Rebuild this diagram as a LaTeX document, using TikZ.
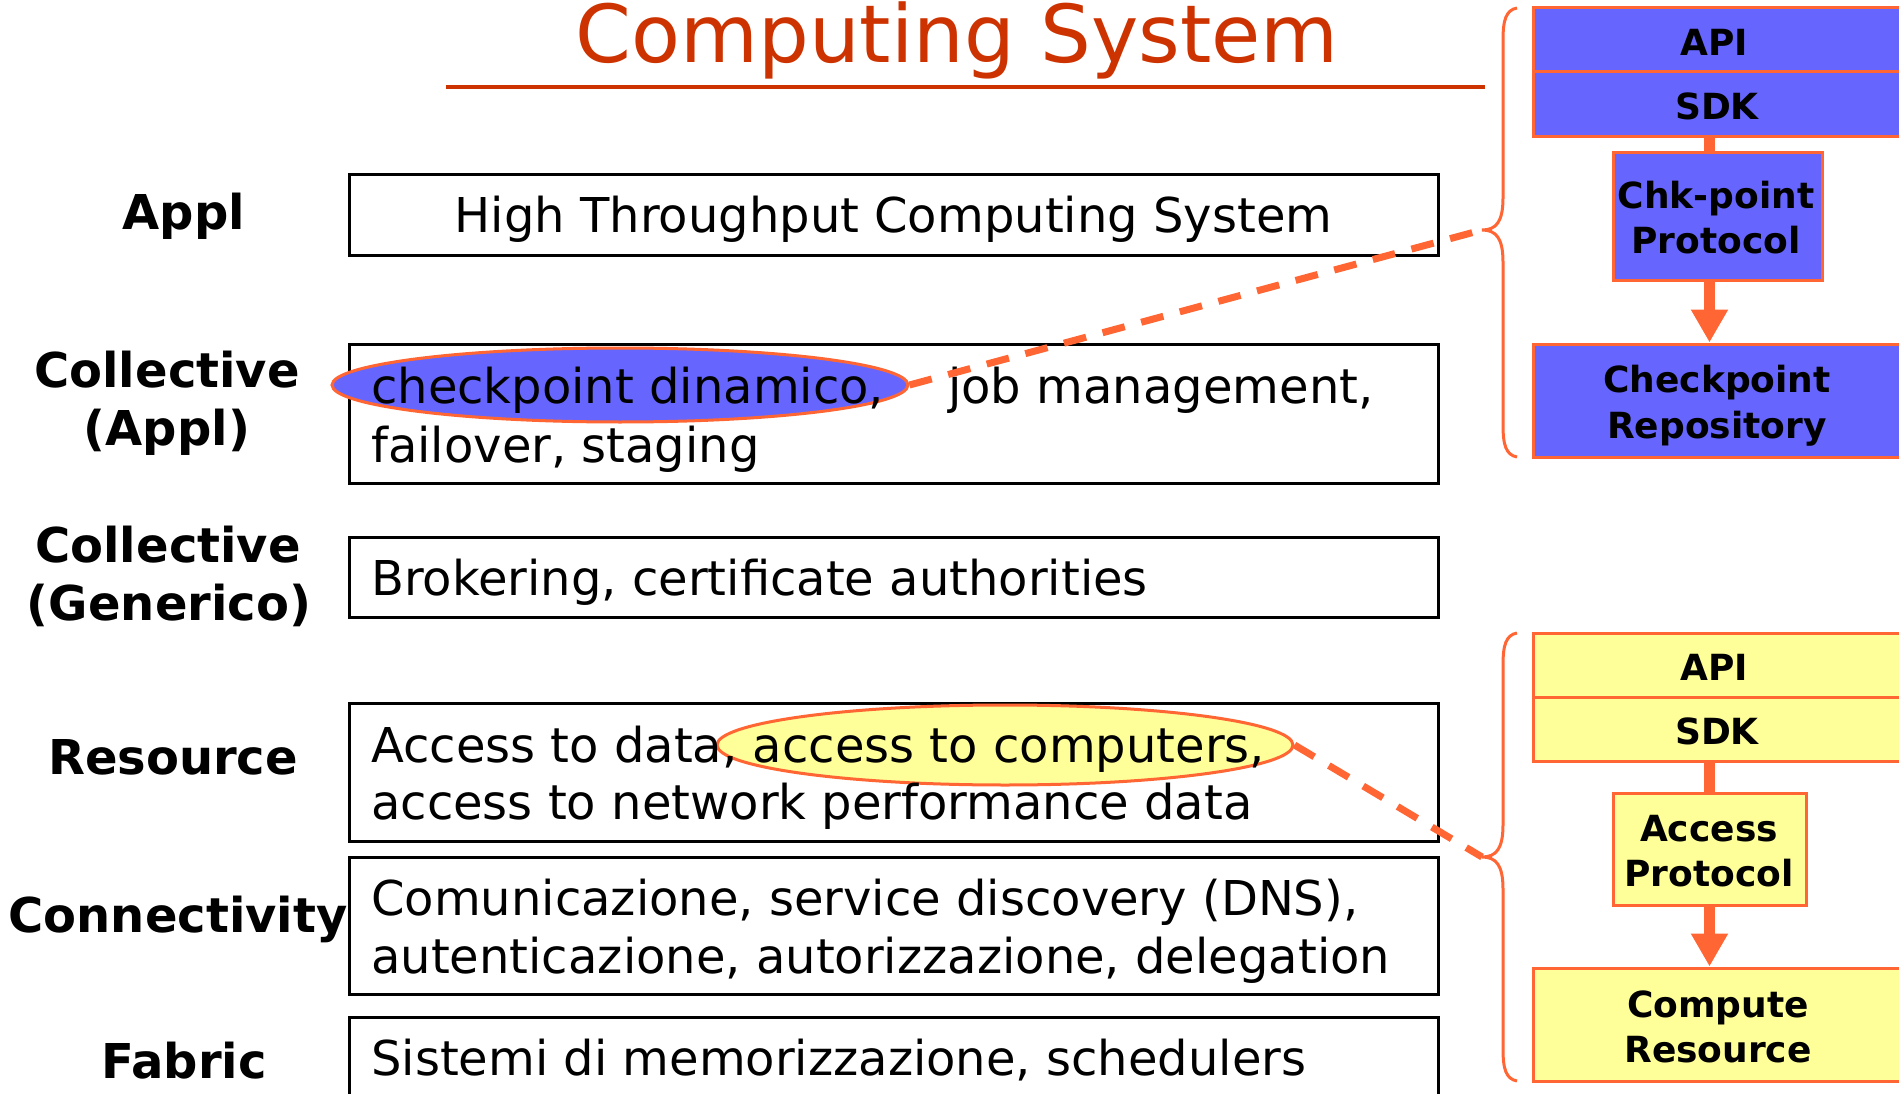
\documentclass[tikz,border=0pt]{standalone}
\usepackage{fontspec}
\setmainfont{DejaVu Sans}
\usetikzlibrary{shapes.geometric,arrows.meta}
\definecolor{orng}{HTML}{FF6633}
\definecolor{blu}{HTML}{6666FF}
\definecolor{ylw}{HTML}{FFFF99}
\definecolor{ttl}{HTML}{CC3300}
\begin{document}
\begin{tikzpicture}[x=1pt,y=-1pt,
  layer/.style={draw=black, line width=3pt, fill=white, inner sep=0pt, rectangle},
  bodytxt/.style={anchor=base west, inner sep=0pt, font=\fontsize{48}{58}\selectfont},
  lbl/.style={anchor=base, inner sep=0pt, font=\bfseries\fontsize{48}{58}\selectfont},
  rbox/.style={draw=orng, line width=3pt, inner sep=0pt, rectangle},
  rtxt/.style={anchor=base, inner sep=0pt, font=\bfseries\fontsize{36}{45}\selectfont},
  hl/.style={ellipse, draw=orng, line width=3pt, inner sep=0pt},
  bar/.style={draw=orng, line width=11pt},
  leader/.style={draw=orng, line width=7pt, dash pattern=on 23pt off 17pt},
  bracepath/.style={draw=orng, line width=3pt}]
\useasboundingbox (0,0) rectangle (1899,1094);
\clip (0,0) rectangle (1899,1094);

% title
\node[anchor=base, inner sep=0pt, text=ttl, font=\fontsize{80}{90}\selectfont] (title) at (957,63) {Computing System};
\coordinate (ulA) at (446,87);
\coordinate (ulB) at (1485,87);
\draw[ttl, line width=4pt] (ulA) -- (ulB);

% layer boxes
\node[layer, minimum width=1089pt, minimum height=81pt] (L1) at (893.5,215.5) {};
\node[layer, minimum width=1089pt, minimum height=139pt] (L2) at (893.5,413.5) {};
\node[layer, minimum width=1089pt, minimum height=80pt] (L3) at (893.5,577) {};
\node[layer, minimum width=1089pt, minimum height=138pt] (L4) at (893.5,772) {};
\node[layer, minimum width=1089pt, minimum height=137pt] (L5) at (893.5,925.5) {};
\node[layer, minimum width=1089pt, minimum height=113pt] (L6) at (893.5,1073.5) {};

% highlight ellipses
\node[hl, fill=blu, minimum width=576pt, minimum height=74pt] (e1) at (620,385) {};
\node[hl, fill=ylw, minimum width=576pt, minimum height=80pt] (e2) at (1005,745) {};

% layer labels
\node[lbl] (la1) at (184,230) {Appl};
\node[lbl] (la2) at (167,387) {Collective};
\node[lbl] (la2b) at (167,445) {(Appl)};
\node[lbl] (la3) at (168,562) {Collective};
\node[lbl] (la3b) at (169,620) {(Generico)};
\node[lbl] (la4) at (173,774) {Resource};
\node[lbl] (la5) at (178,932) {Connectivity};
\node[lbl] (la6) at (184,1078) {Fabric};

% layer texts
\node[anchor=base, inner sep=0pt, font=\fontsize{48}{58}\selectfont] (t1) at (893.5,233) {High Throughput Computing System};
\node[bodytxt] (t2a) at (371,403) {checkpoint dinamico,\hspace{64pt}job management,};
\node[bodytxt] (t2b) at (371,462) {failover, staging};
\node[bodytxt] (t3) at (371,595) {Brokering, certificate authorities};
\node[bodytxt] (t4a) at (371,762) {Access to data, access to computers,};
\node[bodytxt] (t4b) at (371,819) {access to network performance data};
\node[bodytxt] (t5a) at (371,915) {Comunicazione, service discovery (DNS),};
\node[bodytxt] (t5b) at (371,973) {autenticazione, autorizzazione, delegation};
\node[bodytxt] (t6) at (371,1075) {Sistemi di memorizzazione, schedulers};

% right top group
\node[rbox, fill=blu, minimum width=367pt, minimum height=64pt] (api1) at (1716.5,40) {};
\node[rbox, fill=blu, minimum width=367pt, minimum height=65pt] (sdk1) at (1716.5,104.5) {};
\node[rbox, fill=blu, minimum width=209pt, minimum height=128pt] (chk) at (1717.5,217) {};
\node[rbox, fill=blu, minimum width=367pt, minimum height=113pt] (repo) at (1716.5,400.5) {};
\node[rtxt] (api1t) at (1714,56) {API};
\node[rtxt] (sdk1t) at (1717,120) {SDK};
\node[rtxt] (chkt1) at (1716,209) {Chk-point};
\node[rtxt] (chkt2) at (1716,254) {Protocol};
\node[rtxt] (repot1) at (1717,392) {Checkpoint};
\node[rtxt] (repot2) at (1717,438) {Repository};
\coordinate (ax1) at (1709.5,0);
\draw[bar] (sdk1.south -| ax1) -- (chk.north -| ax1);
\draw[bar, -{Triangle[width=35pt,length=33pt]}] (chk.south -| ax1) -- (repo.north -| ax1);

% right bottom group
\node[rbox, fill=ylw, minimum width=367pt, minimum height=64pt] (api2) at (1716.5,665) {};
\node[rbox, fill=ylw, minimum width=367pt, minimum height=64pt] (sdk2) at (1716.5,729) {};
\node[rbox, fill=ylw, minimum width=193pt, minimum height=112pt] (acc) at (1709.5,849) {};
\node[rbox, fill=ylw, minimum width=367pt, minimum height=113pt] (comp) at (1716.5,1024.5) {};
\node[rtxt] (api2t) at (1714,680) {API};
\node[rtxt] (sdk2t) at (1717,744) {SDK};
\node[rtxt] (acct1) at (1709,841) {Access};
\node[rtxt] (acct2) at (1709,886) {Protocol};
\node[rtxt] (compt1) at (1718,1017) {Compute};
\node[rtxt] (compt2) at (1718,1062) {Resource};
\draw[bar] (sdk2.south -| ax1) -- (acc.north -| ax1);
\draw[bar, -{Triangle[width=35pt,length=33pt]}] (acc.south -| ax1) -- (comp.north -| ax1);

% braces
\coordinate (b1tip) at (1482,230);
\coordinate (b2tip) at (1482,857);
\draw[bracepath] (1517,8) .. controls (1506,10) and (1503,20) .. (1503,40)
  -- (1503,198) .. controls (1503,222) and (1496,230) .. (b1tip)
  .. controls (1496,230) and (1503,238) .. (1503,262)
  -- (1503,425) .. controls (1503,445) and (1506,455) .. (1517,457);
\draw[bracepath] (1517,633) .. controls (1506,635) and (1503,645) .. (1503,665)
  -- (1503,825) .. controls (1503,849) and (1496,857) .. (b2tip)
  .. controls (1496,857) and (1503,865) .. (1503,889)
  -- (1503,1049) .. controls (1503,1069) and (1506,1079) .. (1517,1081);

% leaders
\draw[leader] (e1.east) -- (b1tip);
\draw[leader] (e2.east) -- (b2tip);
\end{tikzpicture}
\end{document}
